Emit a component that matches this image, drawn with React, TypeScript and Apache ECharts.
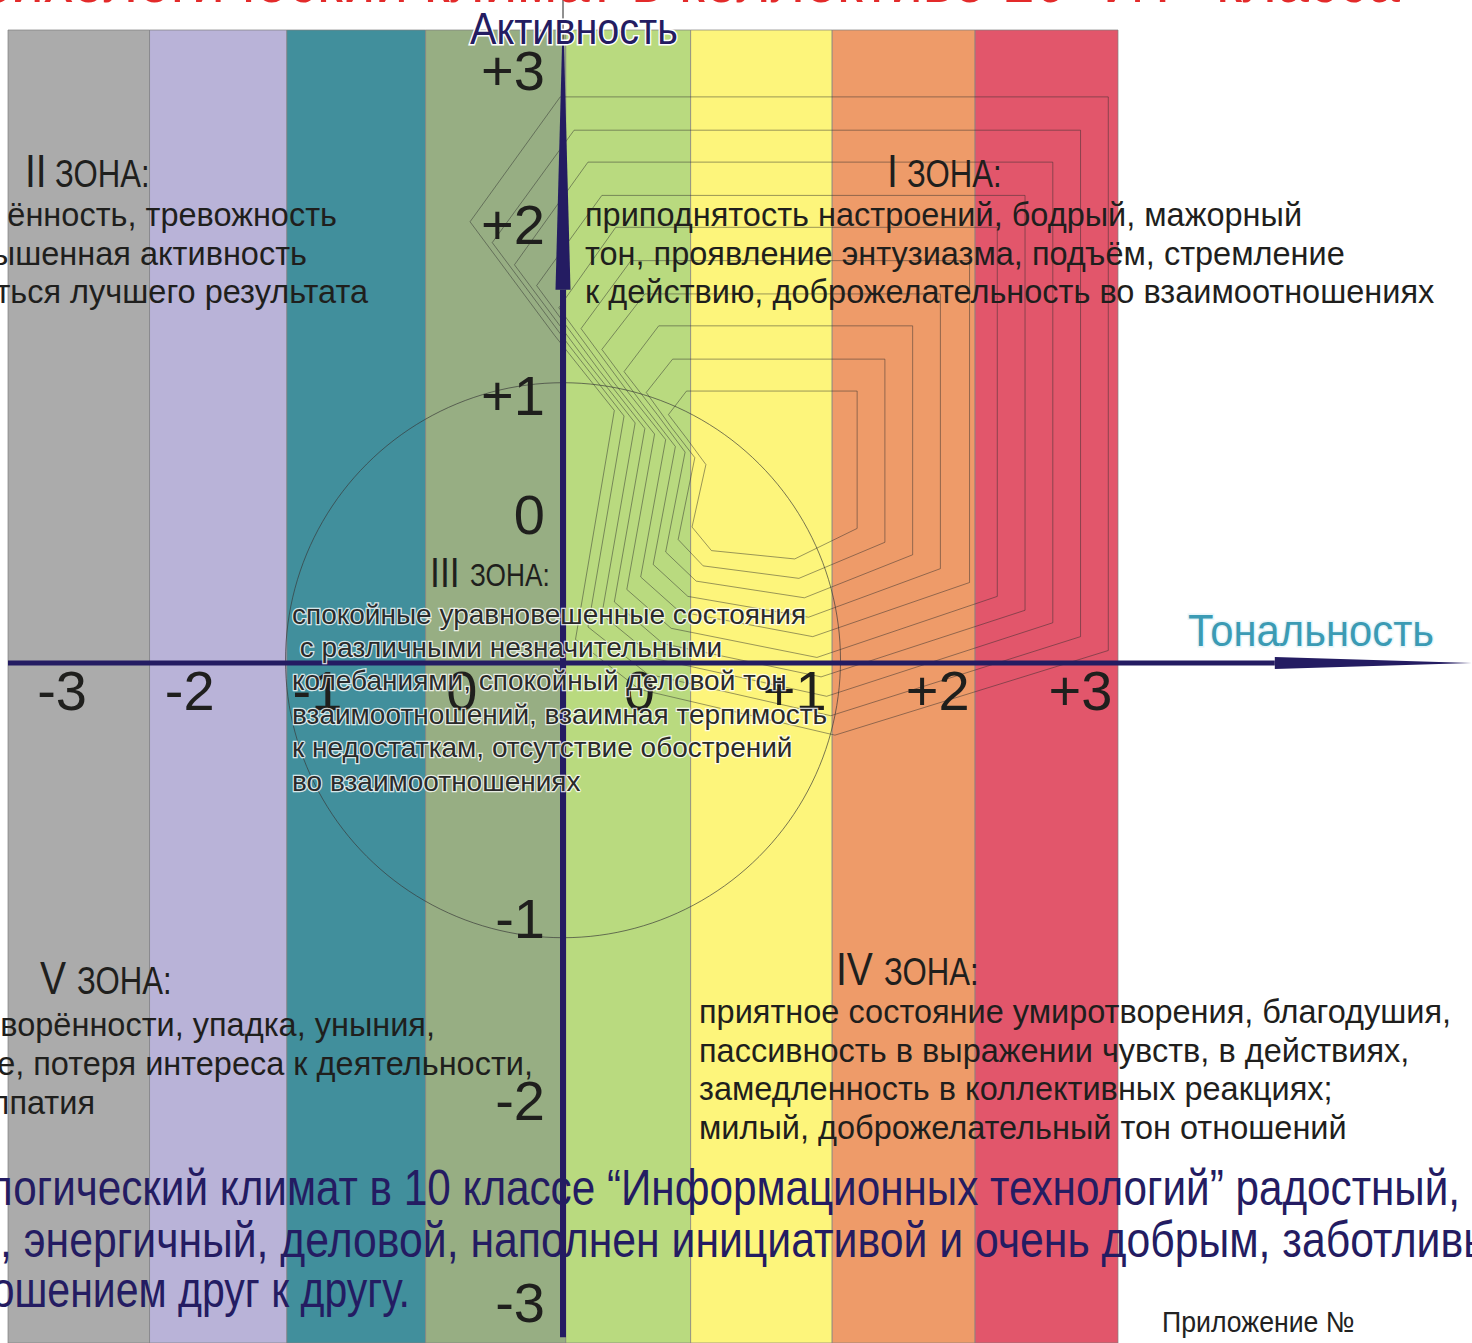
import React, { useEffect, useRef } from "react";
import * as echarts from "echarts";

// ---------- data (axis units: 1 unit = one colour band) ----------
const BAND_EDGES = [-4, -2.98, -1.99, -0.99, 0.02, 0.92, 1.94, 2.97, 4.0];
const BAND_COLORS = ["#ababab", "#b9b3d8", "#418f9c", "#97ae83", "#b9da7f", "#fdf57b", "#ee9b69", "#e2566b"];

const X_TICK_LABELS = ["-3", "-2", "-1", "0", "0", "+1", "+2", "+3"];
const X_TICK_VALUES = [-3.61, -2.69, -1.77, -0.73, 0.55, 1.67, 2.7, 3.73];
const X_TICK_ROW = -0.195;

const Y_TICK_LABELS = ["+3", "+2", "+1", "0", "-1", "-2", "-3"];
const Y_TICK_VALUES = [4.27, 3.16, 1.93, 1.07, -1.84, -3.15, -4.61];
const Y_TICK_COLUMN = -0.13;

// axis arrows: [start, arrow base, tip]
const AXIS_H = [-4.0, 5.13, 6.55];
const AXIS_V = [-4.86, 2.69, 4.5, 4.78];

const CIRCLE_CENTER = [0, 0.02];
const CIRCLE_RADIUS = 2.0;

// nested contours of the "climate" figure (outer -> inner)
const CONTOURS = [
  [[-0.02, 4.08], [3.93, 4.08], [3.93, 0.09], [1.96, -0.52], [0.55, -0.19], [0.09, 0.17], [0.37, 1.82], [-0.06, 2.36], [-0.67, 3.18]],
  [[0.08, 3.84], [3.73, 3.84], [3.73, 0.19], [1.93, -0.38], [0.61, -0.08], [0.18, 0.26], [0.44, 1.78], [0.05, 2.28], [-0.51, 3.03]],
  [[0.18, 3.61], [3.53, 3.61], [3.53, 0.29], [1.9, -0.24], [0.67, 0.03], [0.28, 0.35], [0.52, 1.73], [0.15, 2.2], [-0.35, 2.87]],
  [[0.28, 3.37], [3.33, 3.37], [3.33, 0.38], [1.86, -0.1], [0.72, 0.14], [0.37, 0.44], [0.59, 1.69], [0.26, 2.11], [-0.19, 2.72]],
  [[0.38, 3.14], [3.13, 3.14], [3.13, 0.48], [1.83, 0.04], [0.78, 0.25], [0.46, 0.53], [0.66, 1.65], [0.36, 2.03], [-0.03, 2.56]],
  [[0.49, 2.9], [2.93, 2.9], [2.93, 0.58], [1.8, 0.19], [0.84, 0.37], [0.56, 0.62], [0.74, 1.61], [0.47, 1.95], [0.13, 2.41]],
  [[0.59, 2.66], [2.72, 2.66], [2.72, 0.68], [1.77, 0.33], [0.9, 0.48], [0.65, 0.71], [0.81, 1.56], [0.57, 1.87], [0.28, 2.26]],
  [[0.69, 2.43], [2.52, 2.43], [2.52, 0.78], [1.74, 0.47], [0.96, 0.59], [0.74, 0.8], [0.88, 1.52], [0.68, 1.79], [0.44, 2.1]],
  [[0.79, 2.19], [2.32, 2.19], [2.32, 0.87], [1.7, 0.61], [1.01, 0.7], [0.83, 0.89], [0.95, 1.48], [0.78, 1.7], [0.6, 1.95]],
  [[0.89, 1.96], [2.12, 1.96], [2.12, 0.97], [1.67, 0.75], [1.07, 0.81], [0.93, 0.98], [1.03, 1.43], [0.89, 1.62], [0.76, 1.79]],
];

const TITLE_TEXT = "Психологический климат в коллективе 10 “ИТ” класса";
const Y_AXIS_NAME = "Активность";
const X_AXIS_NAME = "Тональность";

const ZONE_I = ["приподнятость настроений, бодрый, мажорный", "тон, проявление энтузиазма, подъём, стремление", "к действию, доброжелательность во взаимоотношениях"];
const ZONE_II = ["ённость, тревожность", "ышенная активность", "ться лучшего результата"];
const ZONE_III = ["спокойные уравновешенные состояния", " с различными незначительными", "колебаниями, спокойный деловой тон", "взаимоотношений, взаимная терпимость", "к недостаткам, отсутствие обострений", "во взаимоотношениях"];
const ZONE_IV = ["приятное состояние умиротворения, благодушия,", "пассивность в выражении чувств, в действиях,", "замедленность в коллективных реакциях;", "милый, доброжелательный тон отношений"];
const ZONE_V = ["ворённости, упадка, уныния,", "е, потеря интереса к деятельности,", "ппатия"];
const CONCLUSION = ["логический климат в 10 классе “Информационных технологий” радостный,", ", энергичный, деловой, наполнен инициативой и очень добрым, заботливы", "ошением друг к другу."];
const APPENDIX = "Приложение №";

// ---------- layout ----------
const W = 1472;
const H = 1343;
const U = 138.75;
const OX = 563;
const OY = 663;
const GRID_L = 8;
const GRID_T = 30;
const X_MIN = (GRID_L - OX) / U;
const X_MAX = (W - OX) / U;
const Y_MAX = (OY - GRID_T) / U;
const Y_MIN = (OY - H) / U;

const FONT = "'Liberation Sans', Arial, Helvetica, sans-serif";
const NAVY = "#241c62";
const INK = "#1f1f1d";

function txt(text: string, x: number, y: number, o: any = {}) {
  return {
    type: "text",
    x,
    y,
    z: 100,
    scaleX: o.sx ?? 1,
    silent: true,
    style: {
      text,
      fontSize: o.fs ?? 32,
      fontFamily: FONT,
      fill: o.fill ?? INK,
      align: o.align ?? "left",
      verticalAlign: "middle",
      stroke: o.stroke,
      lineWidth: o.lw ?? 0,
    },
  };
}

function zoneHead(roman: string, rx: number, zx: number, y: number, rfs: number, zfs: number) {
  return [
    txt(roman, rx, y, { fs: rfs, sx: 0.85 }),
    txt("ЗОНА:", zx, y + 3, { fs: zfs, sx: 0.82 }),
  ];
}

function lines(arr: string[], x: number, y0: number, step: number, o: any) {
  return arr.map((s, i) => txt(s, x, y0 + i * step, o));
}

const BODY = 32.5;

function buildGraphic() {
  const g: any[] = [];
  g.push(txt(TITLE_TEXT, 1400, -22, { fs: 68, sx: 0.86, fill: "#e32a2a", align: "right" }));
  g.push(txt(Y_AXIS_NAME, 470, 29, { fs: 44, sx: 0.9, fill: NAVY, stroke: "#ffffff", lw: 3 }));
  g.push(txt(X_AXIS_NAME, 1188, 631, { fs: 44, sx: 0.95, fill: "#3b9bb4", stroke: "#e8f6fa", lw: 3 }));

  g.push(...zoneHead("II", 25, 55, 171, 46, 38));
  const ii = lines(ZONE_II, 337, 215, 38.5, { fs: BODY, align: "right" });
  ii[1].x = 307;
  ii[2].x = 368;
  g.push(...ii);

  g.push(...zoneHead("I", 887, 907, 171, 46, 38));
  g.push(...lines(ZONE_I, 585, 215, 38.5, { fs: BODY }));

  g.push(...zoneHead("III", 430, 470, 572, 42, 32));
  g.push(...lines(ZONE_III, 292, 614, 33.4, { fs: 28, fill: "#2a2a2a", stroke: "rgba(255,255,255,0.8)", lw: 2.5 }));

  g.push(...zoneHead("IV", 836, 884, 969, 46, 38));
  g.push(...lines(ZONE_IV, 699, 1012, 38.7, { fs: BODY }));

  g.push(...zoneHead("V", 40, 77, 978, 46, 38));
  const v = lines(ZONE_V, 435, 1025, 39, { fs: BODY, align: "right" });
  v[1].x = 533;
  v[2].x = 95;
  g.push(...v);

  g.push(txt(CONCLUSION[0], 1460, 1188, { fs: 50, sx: 0.845, fill: NAVY, align: "right" }));
  g.push(txt(CONCLUSION[1], 0, 1240, { fs: 50, sx: 0.855, fill: NAVY }));
  g.push(txt(CONCLUSION[2], 410, 1290, { fs: 50, sx: 0.82, fill: NAVY, align: "right" }));

  g.push(txt(APPENDIX, 1162, 1322, { fs: 29, sx: 0.92, fill: "#222" }));
  return g;
}

function buildOption() {
  const bands = {
    type: "custom",
    silent: true,
    z: 1,
    data: BAND_COLORS.map((_, i) => [BAND_EDGES[i], BAND_EDGES[i + 1]]),
    renderItem: (params: any, api: any) => {
      const i = params.dataIndex;
      const p0 = api.coord([BAND_EDGES[i], Y_MAX]);
      const p1 = api.coord([BAND_EDGES[i + 1], Y_MIN]);
      return {
        type: "rect",
        shape: { x: p0[0], y: p0[1], width: p1[0] - p0[0], height: p1[1] - p0[1] },
        style: { fill: BAND_COLORS[i], stroke: "#7e7e7e", lineWidth: 0.7 },
      };
    },
  };

  const contours = {
    type: "custom",
    silent: true,
    z: 2,
    data: CONTOURS.map((_, i) => [i]),
    renderItem: (params: any, api: any) => {
      const pts = CONTOURS[params.dataIndex].map((p) => api.coord(p));
      return {
        type: "polygon",
        shape: { points: pts },
        style: { fill: "none", stroke: "rgba(45,45,45,0.6)", lineWidth: 0.8 },
      };
    },
  };

  const circle = {
    type: "custom",
    silent: true,
    z: 3,
    data: [[0]],
    renderItem: (_p: any, api: any) => {
      const c = api.coord(CIRCLE_CENTER);
      const r = api.size([CIRCLE_RADIUS, 0])[0];
      return {
        type: "circle",
        shape: { cx: c[0], cy: c[1], r },
        style: { fill: "none", stroke: "rgba(55,55,55,0.75)", lineWidth: 0.9 },
      };
    },
  };

  const axes = {
    type: "custom",
    silent: true,
    z: 4,
    data: [[0]],
    renderItem: (_p: any, api: any) => {
      const h0 = api.coord([AXIS_H[0], 0]);
      const hb = api.coord([AXIS_H[1], 0]);
      const ht = api.coord([AXIS_H[2], 0]);
      const v0 = api.coord([0, AXIS_V[0]]);
      const vb = api.coord([0, AXIS_V[1]]);
      const vt = api.coord([0, AXIS_V[2]]);
      const vh = api.coord([0, AXIS_V[3]]);
      return {
        type: "group",
        children: [
          { type: "line", shape: { x1: h0[0], y1: h0[1], x2: hb[0], y2: hb[1] }, style: { stroke: NAVY, lineWidth: 5 } },
          { type: "polygon", shape: { points: [[hb[0], hb[1] - 6], [hb[0], hb[1] + 6], [ht[0], ht[1]]] }, style: { fill: NAVY } },
          { type: "line", shape: { x1: vh[0], y1: vh[1], x2: vt[0], y2: vt[1] }, style: { stroke: "#222", lineWidth: 1 } },
          { type: "line", shape: { x1: v0[0], y1: v0[1], x2: vb[0], y2: vb[1] }, style: { stroke: NAVY, lineWidth: 6 } },
          { type: "polygon", shape: { points: [[vb[0] - 7.5, vb[1]], [vb[0] + 7.5, vb[1]], [vt[0] + 0.8, vt[1]], [vt[0] - 0.8, vt[1]]] }, style: { fill: NAVY } },
        ],
      };
    },
  };

  const xTicks = {
    type: "custom",
    silent: true,
    z: 5,
    data: X_TICK_VALUES.map((v) => [v, X_TICK_ROW]),
    renderItem: (params: any, api: any) => {
      const i = params.dataIndex;
      const p = api.coord([X_TICK_VALUES[i], X_TICK_ROW]);
      return {
        type: "text",
        x: p[0],
        y: p[1],
        style: { text: X_TICK_LABELS[i], fontSize: 56, fontFamily: FONT, fill: INK, align: "center", verticalAlign: "middle" },
      };
    },
  };

  const yTicks = {
    type: "custom",
    silent: true,
    z: 5,
    data: Y_TICK_VALUES.map((v) => [Y_TICK_COLUMN, v]),
    renderItem: (params: any, api: any) => {
      const i = params.dataIndex;
      const p = api.coord([Y_TICK_COLUMN, Y_TICK_VALUES[i]]);
      return {
        type: "text",
        x: p[0],
        y: p[1],
        style: { text: Y_TICK_LABELS[i], fontSize: 56, fontFamily: FONT, fill: INK, align: "right", verticalAlign: "middle" },
      };
    },
  };

  return {
    animation: false,
    backgroundColor: "#ffffff",
    grid: { left: GRID_L, right: 0, top: GRID_T, bottom: 0 },
    xAxis: { type: "value", min: X_MIN, max: X_MAX, show: false },
    yAxis: { type: "value", min: Y_MIN, max: Y_MAX, show: false },
    series: [bands, contours, circle, axes, xTicks, yTicks],
    graphic: buildGraphic(),
  };
}

export default function App() {
  const ref = useRef<HTMLDivElement>(null);
  useEffect(() => {
    document.body.style.margin = "0";
    document.body.style.overflow = "hidden";
    const chart = echarts.init(ref.current as HTMLDivElement, null, { renderer: "svg" });
    chart.setOption(buildOption() as any);
    return () => chart.dispose();
  }, []);
  return <div ref={ref} style={{ width: W, height: H }} />;
}
